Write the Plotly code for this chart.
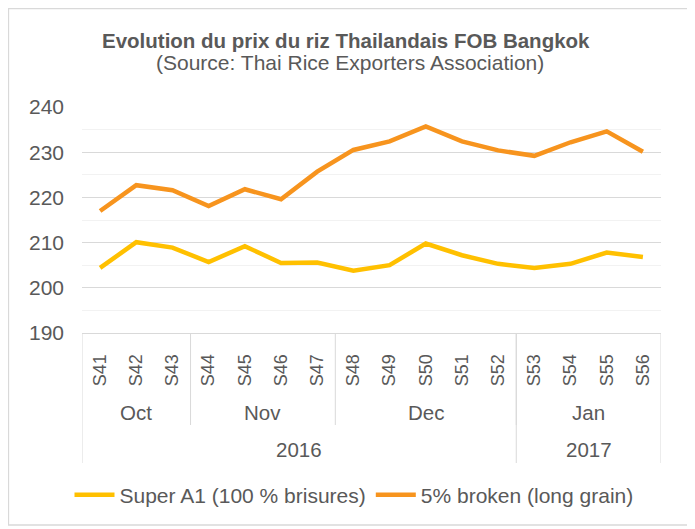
import plotly.graph_objects as go

weeks = ["S41", "S42", "S43", "S44", "S45", "S46", "S47", "S48",
         "S49", "S50", "S51", "S52", "S53", "S54", "S55", "S56"]
months = ["Oct"] * 3 + ["Nov"] * 4 + ["Dec"] * 5 + ["Jan"] * 4
years = ["2016"] * 12 + ["2017"] * 4
super_a1 = [204.4, 210.1, 208.9, 205.7, 209.2, 205.5, 205.6, 203.8,
            205.0, 209.8, 207.2, 205.3, 204.4, 205.3, 207.8, 206.8]
broken5 = [217.0, 222.7, 221.6, 218.1, 221.8, 219.6, 225.7, 230.5,
           232.4, 235.7, 232.4, 230.4, 229.2, 232.2, 234.6, 230.1]

# page body has an 8px margin: figure origin sits at (8, 8) on screen
OFF = 8
W, H = 695 - OFF, 529 - OFF
# plot area in screen pixels
X0, X1, Y0, Y1 = 82, 661, 107, 333
L, R, T, B = X0 - OFF, W - (X1 - OFF), Y0 - OFF, H - (Y1 - OFF)
PW, PH = X1 - X0, Y1 - Y0
FONT = "Liberation Sans, Arial, sans-serif"
TXT = "#595959"
GRID = "#d9d9d9"


def px(x):
    return (x - X0) / PW


def py(y):
    return (Y1 - y) / PH


fig = go.Figure()
fig.add_trace(go.Scatter(x=weeks, y=super_a1, mode="lines", name="Super A1 (100 % brisures)",
                         line=dict(color="#FFC000", width=4.5)))
fig.add_trace(go.Scatter(x=weeks, y=broken5, mode="lines", name="5% broken (long grain)",
                         line=dict(color="#F7941E", width=4.5)))


def groups(labels):
    out = []
    start = 0
    for i in range(1, len(labels) + 1):
        if i == len(labels) or labels[i] != labels[start]:
            out.append((labels[start], start, i - 1))
            start = i
    return out


shapes = []
annotations = []
month_bottom = py(425)
year_bottom = py(463)
line_style = dict(color=GRID, width=1)

for name, s, e in groups(months):
    annotations.append(dict(x=(s + e) / 2, y=py(412), xref="x", yref="paper", text=name,
                            yanchor="middle", xanchor="center",
                            showarrow=False, font=dict(size=20.5, color=TXT, family=FONT)))
    if s > 0:
        shapes.append(dict(type="line", xref="x", yref="paper", x0=s - 0.5, x1=s - 0.5,
                           y0=0, y1=month_bottom, line=line_style, layer="below"))
for name, s, e in groups(years):
    annotations.append(dict(x=(s + e) / 2, y=py(449), xref="x", yref="paper", text=name,
                            yanchor="middle", xanchor="center",
                            showarrow=False, font=dict(size=20.5, color=TXT, family=FONT)))
    shapes.append(dict(type="line", xref="x", yref="paper", x0=s - 0.5, x1=s - 0.5,
                       y0=0, y1=year_bottom, line=line_style, layer="below"))
    if e == len(years) - 1:
        shapes.append(dict(type="line", xref="x", yref="paper", x0=e + 0.5, x1=e + 0.5,
                           y0=0, y1=year_bottom, line=line_style, layer="below"))

# chart border
shapes.append(dict(type="rect", xref="paper", yref="paper", x0=px(8.5), x1=px(690),
                   y0=py(525), y1=py(8.5), line=dict(color=GRID, width=1.3), layer="below"))

annotations.append(dict(x=px(345.5), y=py(40), xref="paper", yref="paper",
                        yanchor="middle", xanchor="center",
                        text="<b>Evolution du prix du riz Thailandais FOB Bangkok</b>",
                        showarrow=False, font=dict(size=20.5, color=TXT, family=FONT)))
annotations.append(dict(x=px(350), y=py(63), xref="paper", yref="paper",
                        yanchor="middle", xanchor="center",
                        text="(Source: Thai Rice Exporters Association)",
                        showarrow=False, font=dict(size=21, color=TXT, family=FONT)))

fig.update_layout(
    width=W, height=H,
    margin=dict(l=L, r=R, t=T, b=B),
    paper_bgcolor="white", plot_bgcolor="white",
    font=dict(family=FONT, color=TXT, size=20),
    shapes=shapes, annotations=annotations,
    showlegend=True,
    legend=dict(orientation="h", x=px(354), xanchor="center", y=py(495), yanchor="middle",
                font=dict(size=21, color=TXT, family=FONT), itemwidth=40,
                bgcolor="rgba(0,0,0,0)", tracegroupgap=0),
)
fig.update_xaxes(type="category", tickangle=-90, showgrid=False, ticks="",
                 showline=True, linecolor=GRID, linewidth=1,
                 tickfont=dict(size=18, color=TXT, family=FONT), ticklabelstandoff=13,
                 range=[-0.5, len(weeks) - 0.5], fixedrange=True)
fig.update_yaxes(range=[190, 240], dtick=10, tick0=190, showgrid=True, gridcolor=GRID, gridwidth=1,
                 zeroline=False, showline=False, ticks="",
                 tickfont=dict(size=21, color=TXT, family=FONT), ticklabelstandoff=17,
                 minor=dict(dtick=5, showgrid=True, gridcolor="#f2f2f2", gridwidth=1),
                 fixedrange=True)

fig.write_html("out.html")
